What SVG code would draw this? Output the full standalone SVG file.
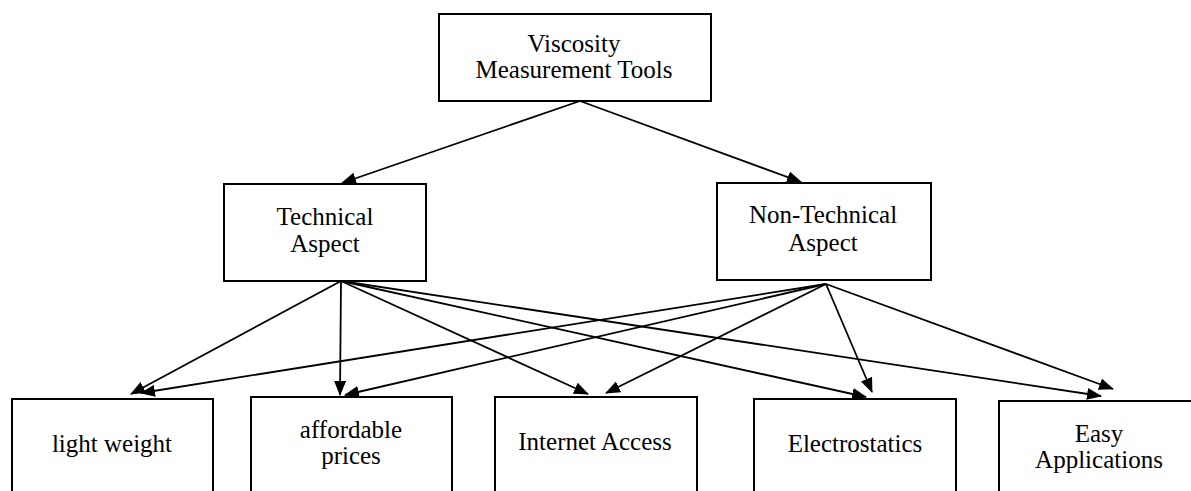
<svg xmlns="http://www.w3.org/2000/svg" width="1191" height="491" viewBox="0 0 1191 491">
<style>
.box{fill:#fff;stroke:#000;stroke-width:2}
.t{font-family:"Liberation Serif","Times New Roman","DejaVu Serif",serif;font-size:25px;fill:#000;text-anchor:middle}
.c{fill:none;stroke:#000;stroke-width:1.8;marker-end:url(#ah)}
</style>
<defs>
<marker id="ah" markerUnits="userSpaceOnUse" markerWidth="15" markerHeight="12" refX="14" refY="6" orient="auto">
<path d="M0,0 L15,6 L0,12 z" fill="#000"/>
</marker>
</defs>
<rect width="1191" height="491" fill="#fff"/>
<g id="connectors">
<line class="c" x1="580" y1="101" x2="342" y2="183"/>
<line class="c" x1="580" y1="101" x2="801" y2="182"/>
<line class="c" x1="341" y1="281" x2="131" y2="394"/>
<line class="c" x1="341" y1="281" x2="340" y2="395"/>
<line class="c" x1="341" y1="281" x2="588" y2="394"/>
<line class="c" x1="341" y1="281" x2="866" y2="397"/>
<line class="c" x1="341" y1="281" x2="1101" y2="396"/>
<line class="c" x1="826" y1="284" x2="141" y2="393"/>
<line class="c" x1="826" y1="284" x2="345" y2="395"/>
<line class="c" x1="826" y1="284" x2="606" y2="393"/>
<line class="c" x1="826" y1="284" x2="872" y2="392"/>
<line class="c" x1="826" y1="284" x2="1113" y2="389"/>
</g>
<g id="node-root">
<rect class="box" x="439" y="14" width="272" height="87"/>
<text class="t" x="574" y="52">Viscosity</text>
<text class="t" x="574" y="78">Measurement Tools</text>
</g>
<g id="node-technical">
<rect class="box" x="224" y="184" width="202" height="97"/>
<text class="t" x="325" y="225">Technical</text>
<text class="t" x="325" y="252">Aspect</text>
</g>
<g id="node-nontechnical">
<rect class="box" x="717" y="183" width="214" height="97"/>
<text class="t" x="823" y="223">Non-Technical</text>
<text class="t" x="823" y="251">Aspect</text>
</g>
<g id="node-lightweight">
<rect class="box" x="12" y="399" width="201" height="110"/>
<text class="t" x="112" y="452">light weight</text>
</g>
<g id="node-affordable">
<rect class="box" x="251" y="397" width="201" height="110"/>
<text class="t" x="351" y="438">affordable</text>
<text class="t" x="351" y="464">prices</text>
</g>
<g id="node-internet">
<rect class="box" x="495" y="397" width="202" height="110"/>
<text class="t" x="595" y="450">Internet Access</text>
</g>
<g id="node-electrostatics">
<rect class="box" x="754" y="399" width="202" height="110"/>
<text class="t" x="855" y="452">Electrostatics</text>
</g>
<g id="node-easy">
<rect class="box" x="999" y="401" width="202" height="110"/>
<text class="t" x="1099" y="442">Easy</text>
<text class="t" x="1099" y="468">Applications</text>
</g>
</svg>
